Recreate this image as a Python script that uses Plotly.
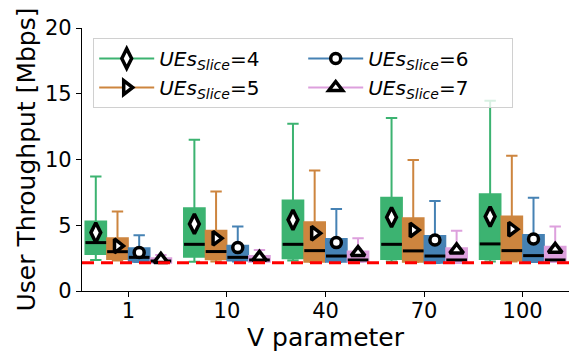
import plotly.graph_objects as go

# ---------------- data ----------------
V_LABELS = ["1", "10", "40", "70", "100"]
SERIES = ["4", "5", "6", "7"]

# per series: values for V = 1, 10, 40, 70, 100
UPPER = {
    "4": [8.70, 11.50, 12.71, 13.15, 14.47],
    "5": [6.04, 7.56, 9.16, 9.97, 10.28],
    "6": [4.24, 4.90, 6.24, 6.85, 7.10],
    "7": [2.74, 3.12, 4.01, 4.59, 4.90],
}
Q3 = {
    "4": [5.28, 6.29, 6.88, 7.10, 7.36],
    "5": [4.01, 4.59, 5.23, 5.53, 5.66],
    "6": [3.25, 3.45, 3.96, 4.19, 4.26],
    "7": [2.49, 2.66, 3.00, 3.25, 3.37],
}
MEDIAN = {
    "4": [3.68, 3.55, 3.55, 3.55, 3.58],
    "5": [2.99, 3.00, 3.07, 3.05, 3.07],
    "6": [2.56, 2.56, 2.66, 2.66, 2.69],
    "7": [2.28, 2.36, 2.36, 2.36, 2.36],
}
Q1 = {
    "4": [2.82, 2.61, 2.49, 2.44, 2.44],
    "5": [2.44, 2.41, 2.23, 2.23, 2.31],
    "6": [2.23, 2.31, 2.23, 2.15, 2.23],
    "7": [2.15, 2.23, 2.23, 2.15, 2.23],
}
LOWER = {
    "4": [2.36, 2.23, 2.31, 2.25, 2.25],
    "5": [2.31, 2.25, 2.20, 2.20, 2.25],
    "6": [2.20, 2.25, 2.20, 2.12, 2.20],
    "7": [2.12, 2.20, 2.20, 2.12, 2.20],
}
MEAN = {
    "4": [4.44, 5.10, 5.41, 5.61, 5.66],
    "5": [3.43, 4.01, 4.39, 4.64, 4.70],
    "6": [2.92, 3.30, 3.68, 3.88, 3.96],
    "7": [2.40, 2.56, 2.92, 3.12, 3.17],
}
THRESHOLD = 2.15
X_TITLE = "V parameter"
Y_TITLE = "User Throughput [Mbps]"

# ---------------- style ----------------
COLORS = {"4": "#3cb371", "5": "#cd853f", "6": "#4682b4", "7": "#dda0dd"}
SYMBOLS = {"4": "diamond-tall", "5": "triangle-right", "6": "circle", "7": "triangle-up"}
MSIZE = {"4": 14, "5": 12, "6": 10, "7": 12}
OFFSETS = {"4": -0.33, "5": -0.11, "6": 0.11, "7": 0.33}
BOX_W = 0.21
FONT = "DejaVu Sans"

fig = go.Figure()

for s in SERIES:
    xs = [i + OFFSETS[s] for i in range(len(V_LABELS))]
    fig.add_trace(go.Box(
        x=xs, q1=Q1[s], median=MEDIAN[s], q3=Q3[s],
        lowerfence=LOWER[s], upperfence=UPPER[s],
        width=BOX_W, whiskerwidth=0.55,
        fillcolor=COLORS[s], line=dict(color=COLORS[s], width=2),
        showlegend=False, hoverinfo="skip",
    ))

# median lines (black)
for s in SERIES:
    mx, my = [], []
    for i, m in enumerate(MEDIAN[s]):
        xc = i + OFFSETS[s]
        mx += [xc - BOX_W / 2, xc + BOX_W / 2, None]
        my += [m, m, None]
    fig.add_trace(go.Scatter(x=mx, y=my, mode="lines",
                             line=dict(color="black", width=3),
                             showlegend=False, hoverinfo="skip"))

# mean markers
for s in SERIES:
    xs = [i + OFFSETS[s] for i in range(len(V_LABELS))]
    fig.add_trace(go.Scatter(
        x=xs, y=MEAN[s], mode="markers",
        marker=dict(symbol=SYMBOLS[s], size=MSIZE[s], color="white",
                    line=dict(color="black", width=3.5)),
        showlegend=False, hoverinfo="skip",
    ))

# legend entries (row-wise order for two columns: 4, 6 / 5, 7)
for s in ["4", "6", "5", "7"]:
    fig.add_trace(go.Scatter(
        x=[None], y=[None], mode="lines+markers",
        name=f"<i>UEs</i><sub><i>Slice</i></sub>={s}",
        line=dict(color=COLORS[s], width=2),
        marker=dict(symbol=SYMBOLS[s], size=MSIZE[s], color="white",
                    line=dict(color="black", width=3.5)),
    ))

fig.add_hline(y=THRESHOLD, line=dict(color="red", width=3, dash="12px,7px"))

fig.add_annotation(
    text=Y_TITLE, textangle=-90, xref="paper", yref="paper",
    x=-0.113, y=0.5, xanchor="center", yanchor="middle", showarrow=False,
    font=dict(size=25, family=FONT, color="black"),
)

fig.update_layout(
    width=569, height=353,
    margin=dict(l=82, r=0, t=28, b=62),
    paper_bgcolor="white", plot_bgcolor="white",
    font=dict(family=FONT, color="black", size=21),
    showlegend=True,
    legend=dict(
        orientation="h", x=0.023, y=0.962, xanchor="left", yanchor="top",
        bgcolor="rgba(255,255,255,0.8)", bordercolor="#d0d0d0", borderwidth=1,
        font=dict(size=20, family=FONT), itemwidth=55, entrywidth=139,
        tracegroupgap=0,
    ),
)
fig.update_xaxes(
    range=[-0.47, 4.47], tickvals=list(range(len(V_LABELS))), ticktext=V_LABELS,
    showline=True, linecolor="black", linewidth=1.3, mirror=False,
    ticks="outside", ticklen=5, tickcolor="black", showgrid=False, zeroline=False,
    tickfont=dict(size=21), ticklabelstandoff=-4,
    title=dict(text=X_TITLE, font=dict(size=25), standoff=0),
)
fig.update_yaxes(
    range=[0, 20], tickvals=[0, 5, 10, 15, 20],
    showline=True, linecolor="black", linewidth=1.3,
    ticks="outside", ticklen=5, tickcolor="black", showgrid=False, zeroline=False,
    tickfont=dict(size=21),
)

fig.write_html("out.html")
